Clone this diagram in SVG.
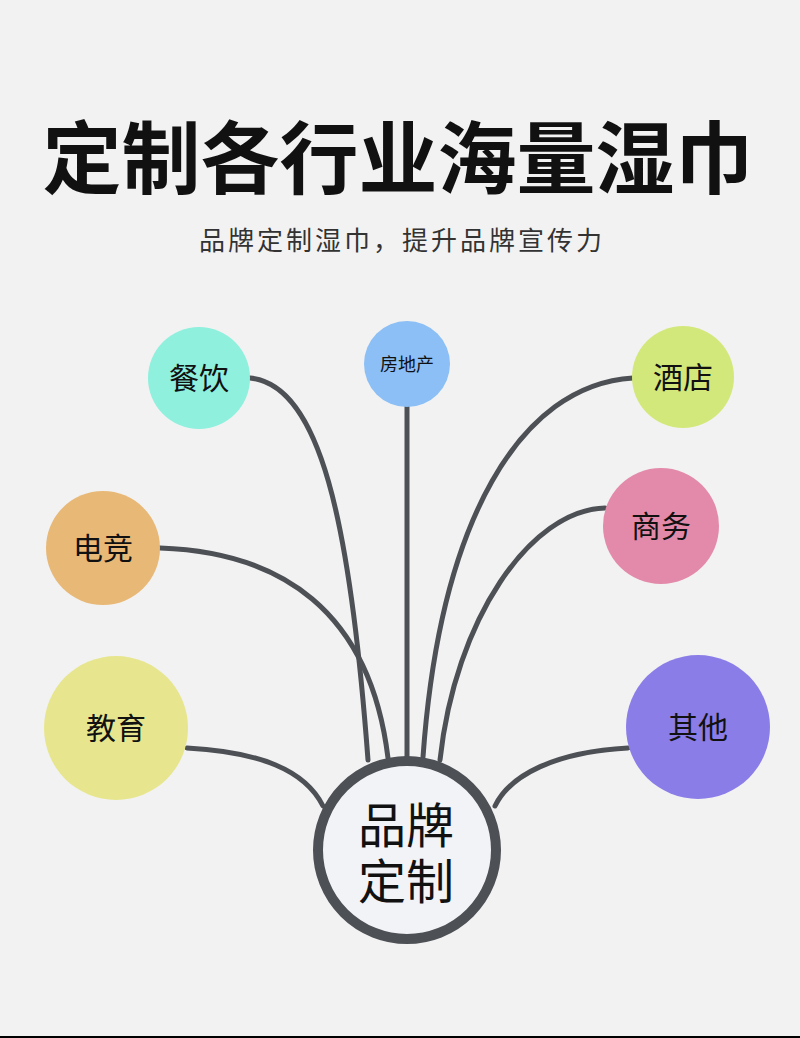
<svg xmlns="http://www.w3.org/2000/svg" width="800" height="1038" viewBox="0 0 800 1038">
<style>
text{font-family:"Noto Sans CJK SC","Noto Sans",sans-serif;text-anchor:middle;fill:#111}
.title{font-size:79px;font-weight:bold}
.sub{font-size:26px;fill:#333;letter-spacing:3px}
.lbl{font-size:30px}
.small{font-size:18px}
.center{font-size:48px}
.conn{fill:none;stroke:#4d5055;stroke-width:5;stroke-linecap:round}
</style>
<rect width="800" height="1038" fill="#f2f2f2"/>
<rect x="0" y="1036" width="800" height="2" fill="#000"/>
<text class="title" x="398" y="188">定制各行业海量湿巾</text>
<text class="sub" x="402" y="250">品牌定制湿巾，提升品牌宣传力</text>
<g id="connectors">
<path class="conn" d="M250 378 C320 385 350 520 368 760"/>
<path class="conn" d="M407 407 L407 757"/>
<path class="conn" d="M633 378 C520 385 440 520 423 757"/>
<path class="conn" d="M605 508 C530 510 455 620 440 760"/>
<path class="conn" d="M160 548 C280 552 370 610 388 758"/>
<path class="conn" d="M187 748 C260 752 305 770 323 806"/>
<path class="conn" d="M628 748 C555 752 510 775 495 806"/>
</g>
<g id="n-canyin"><circle cx="199" cy="378" r="51" fill="#8ef0dd"/><text class="lbl" x="199" y="389">餐饮</text></g>
<g id="n-fangdichan"><circle cx="407" cy="364" r="43" fill="#8bbff5"/><text class="small" x="407" y="371">房地产</text></g>
<g id="n-jiudian"><circle cx="683" cy="377" r="51" fill="#d3e87a"/><text class="lbl" x="683" y="388">酒店</text></g>
<g id="n-shangwu"><circle cx="661" cy="526" r="58" fill="#e38aaa"/><text class="lbl" x="661" y="537">商务</text></g>
<g id="n-dianjing"><circle cx="103" cy="548" r="57" fill="#e8b877"/><text class="lbl" x="103" y="559">电竞</text></g>
<g id="n-jiaoyu"><circle cx="116" cy="728" r="72" fill="#e7e68e"/><text class="lbl" x="116" y="739">教育</text></g>
<g id="n-qita"><circle cx="698" cy="727" r="72" fill="#8a7de8"/><text class="lbl" x="698" y="738">其他</text></g>
<g id="n-center"><circle cx="407" cy="850" r="89" fill="#f2f3f7" stroke="#4d5055" stroke-width="10"/><text class="center"><tspan x="406" y="843">品牌</tspan><tspan x="406" y="899">定制</tspan></text></g>
</svg>
